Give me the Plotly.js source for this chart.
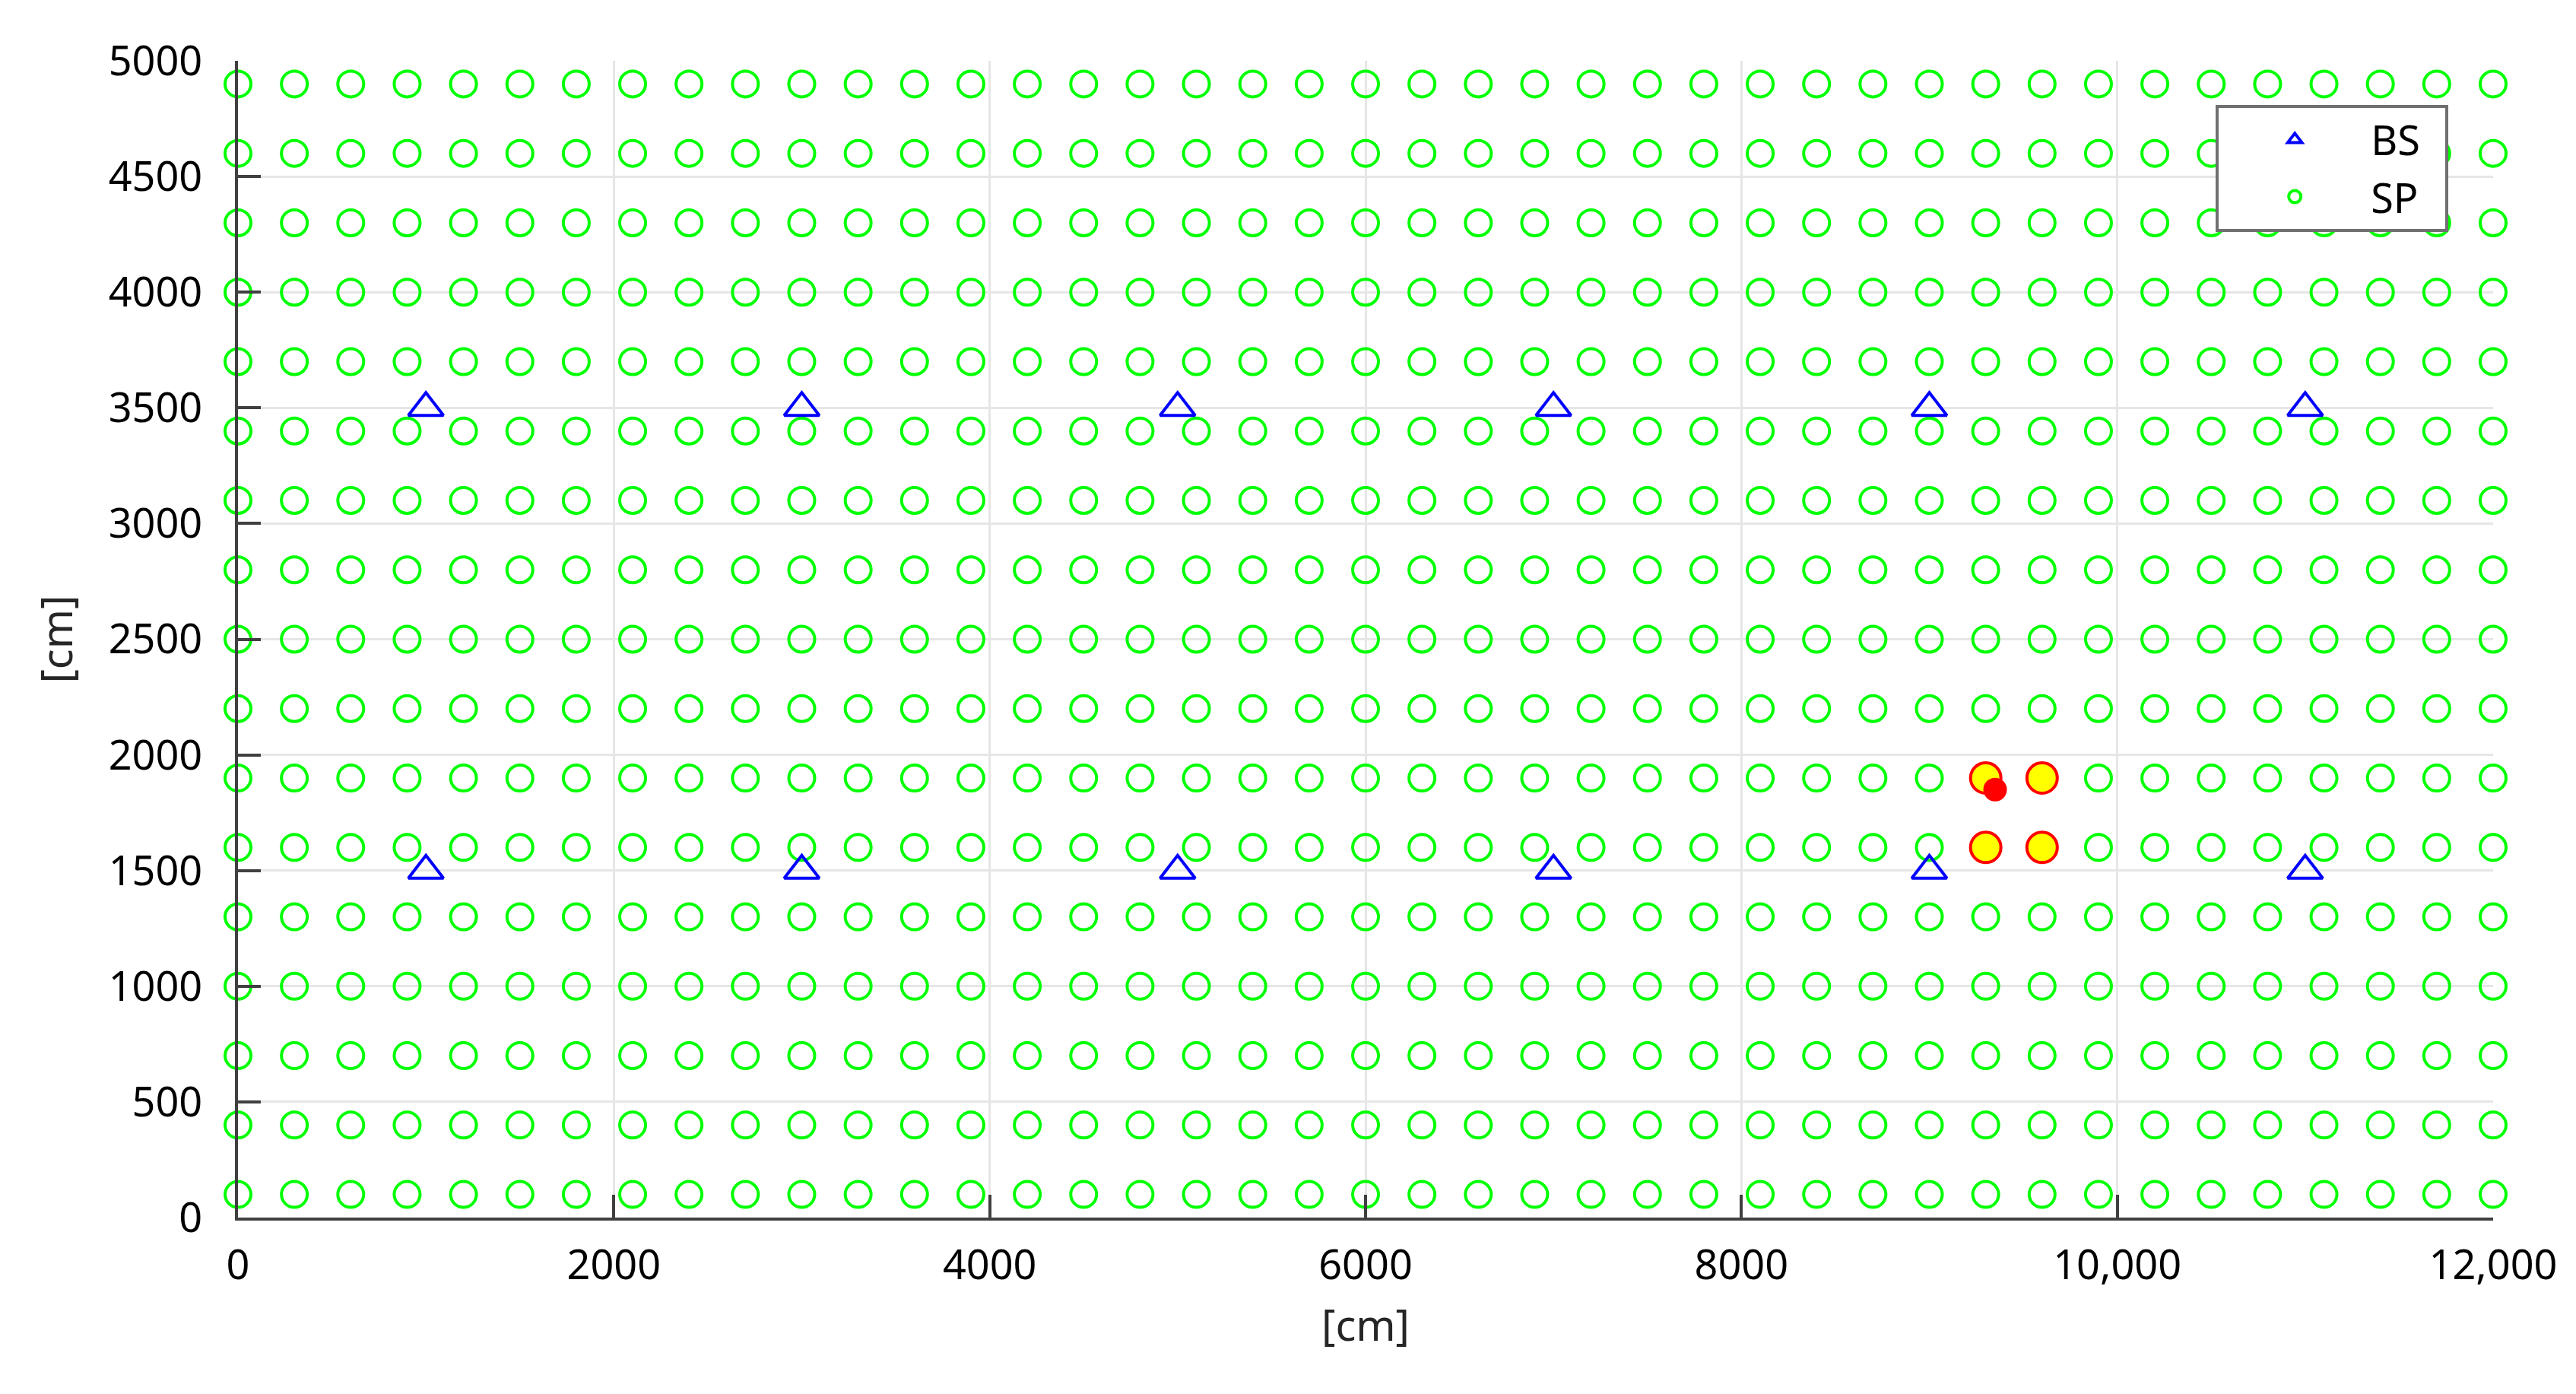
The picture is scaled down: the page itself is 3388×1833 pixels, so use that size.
<!DOCTYPE html>
<html>
<head>
<meta charset="utf-8">
<script src="https://cdn.plot.ly/plotly-3.0.1.min.js"></script>
<style>html,body{margin:0;padding:0;background:#fff;}#chart{width:3388px;height:1833px;}</style>
</head>
<body>
<div id="chart"></div>
<script>
// Sensing-point grid columns and rows [cm]
const spXValues = [0, 300, 600, 900, 1200, 1500, 1800, 2100, 2400, 2700, 3000, 3300, 3600, 3900, 4200, 4500, 4800, 5100, 5400, 5700, 6000, 6300, 6600, 6900, 7200, 7500, 7800, 8100, 8400, 8700, 9000, 9300, 9600, 9900, 10200, 10500, 10800, 11100, 11400, 11700, 12000];
const spYValues = [100, 400, 700, 1000, 1300, 1600, 1900, 2200, 2500, 2800, 3100, 3400, 3700, 4000, 4300, 4600, 4900];

// Base stations
const bsX = [1000, 3000, 5000, 7000, 9000, 11000, 1000, 3000, 5000, 7000, 9000, 11000];
const bsY = [1500, 1500, 1500, 1500, 1500, 1500, 3500, 3500, 3500, 3500, 3500, 3500];

// Highlighted sensing points
const selX = [9300, 9600, 9300, 9600];
const selY = [1900, 1900, 1600, 1600];

// Target
const targetX = [9350];
const targetY = [1850];

// Tick labels
const xTickVals = [0, 2000, 4000, 6000, 8000, 10000, 12000];
const xTickText = ['0', '2000', '4000', '6000', '8000', '10,000', '12,000'];
const yTickVals = [0, 500, 1000, 1500, 2000, 2500, 3000, 3500, 4000, 4500, 5000];
const yTickText = ['0', '500', '1000', '1500', '2000', '2500', '3000', '3500', '4000', '4500', '5000'];

const spX = [], spY = [];
for (const y of spYValues) { for (const x of spXValues) { spX.push(x); spY.push(y); } }

const FONT = '"Noto Sans", "Open Sans", Arial, sans-serif';
const PAD = '\u00a0\u00a0';

const bsTrace = {
  type: 'scatter', mode: 'markers', name: 'BS' + PAD, x: bsX, y: bsY,
  legendgroup: 'g1', legendrank: 1,
  marker: { symbol: 'triangle-up-open', size: 40, color: '#0000ff', line: { width: 4, color: '#0000ff' } },
  cliponaxis: false
};
const spTrace = {
  type: 'scatter', mode: 'markers', name: 'SP' + PAD, x: spX, y: spY,
  legendgroup: 'g2', legendrank: 2,
  marker: { symbol: 'circle-open', size: 34, color: '#00ff00', line: { width: 4, color: '#00ff00' } },
  cliponaxis: false
};
const selTrace = {
  type: 'scatter', mode: 'markers', name: 'selected', x: selX, y: selY, showlegend: false,
  marker: { symbol: 'circle', size: 40, color: '#ffff00', line: { width: 4, color: '#ff0000' } },
  cliponaxis: false
};
const targetTrace = {
  type: 'scatter', mode: 'markers', name: 'target', x: targetX, y: targetY, showlegend: false,
  marker: { symbol: 'circle', size: 31, color: '#ff0000', line: { width: 0 } },
  cliponaxis: false
};

const axisCommon = {
  showline: true, linecolor: '#404040', linewidth: 4,
  ticks: 'inside', ticklen: 30, tickwidth: 4, tickcolor: '#404040',
  showgrid: true, gridcolor: '#e6e6e6', gridwidth: 3,
  zeroline: false, tickmode: 'array',
  tickfont: { family: FONT, size: 54, color: '#000000' }
};

const layout = {
  width: 3388, height: 1833,
  paper_bgcolor: '#ffffff', plot_bgcolor: '#ffffff',
  margin: { l: 313, r: 109, t: 80, b: 232 },
  font: { family: FONT, color: '#000000' },
  xaxis: Object.assign({}, axisCommon, {
    range: [0, 12000], tickvals: xTickVals, ticktext: xTickText,
    ticklabelstandoff: 12,
    title: { text: '[cm]', font: { family: FONT, size: 56, color: '#262626' }, standoff: 28 }
  }),
  yaxis: Object.assign({}, axisCommon, {
    range: [0, 5000], tickvals: yTickVals, ticktext: yTickText,
    ticklabelstandoff: 32,
    title: { text: '[cm]', font: { family: FONT, size: 56, color: '#262626' }, standoff: 30 }
  }),
  legend: {
    x: 0.877, y: 0.962, xanchor: 'left', yanchor: 'top',
    bgcolor: '#ffffff', bordercolor: '#707070', borderwidth: 4,
    font: { family: FONT, size: 54, color: '#000000' },
    itemwidth: 190, traceorder: 'grouped', tracegroupgap: 2, itemsizing: 'trace'
  },
  showlegend: true
};

Plotly.newPlot('chart', [spTrace, bsTrace, selTrace, targetTrace], layout, { staticPlot: true, displayModeBar: false });
</script>
</body>
</html>
